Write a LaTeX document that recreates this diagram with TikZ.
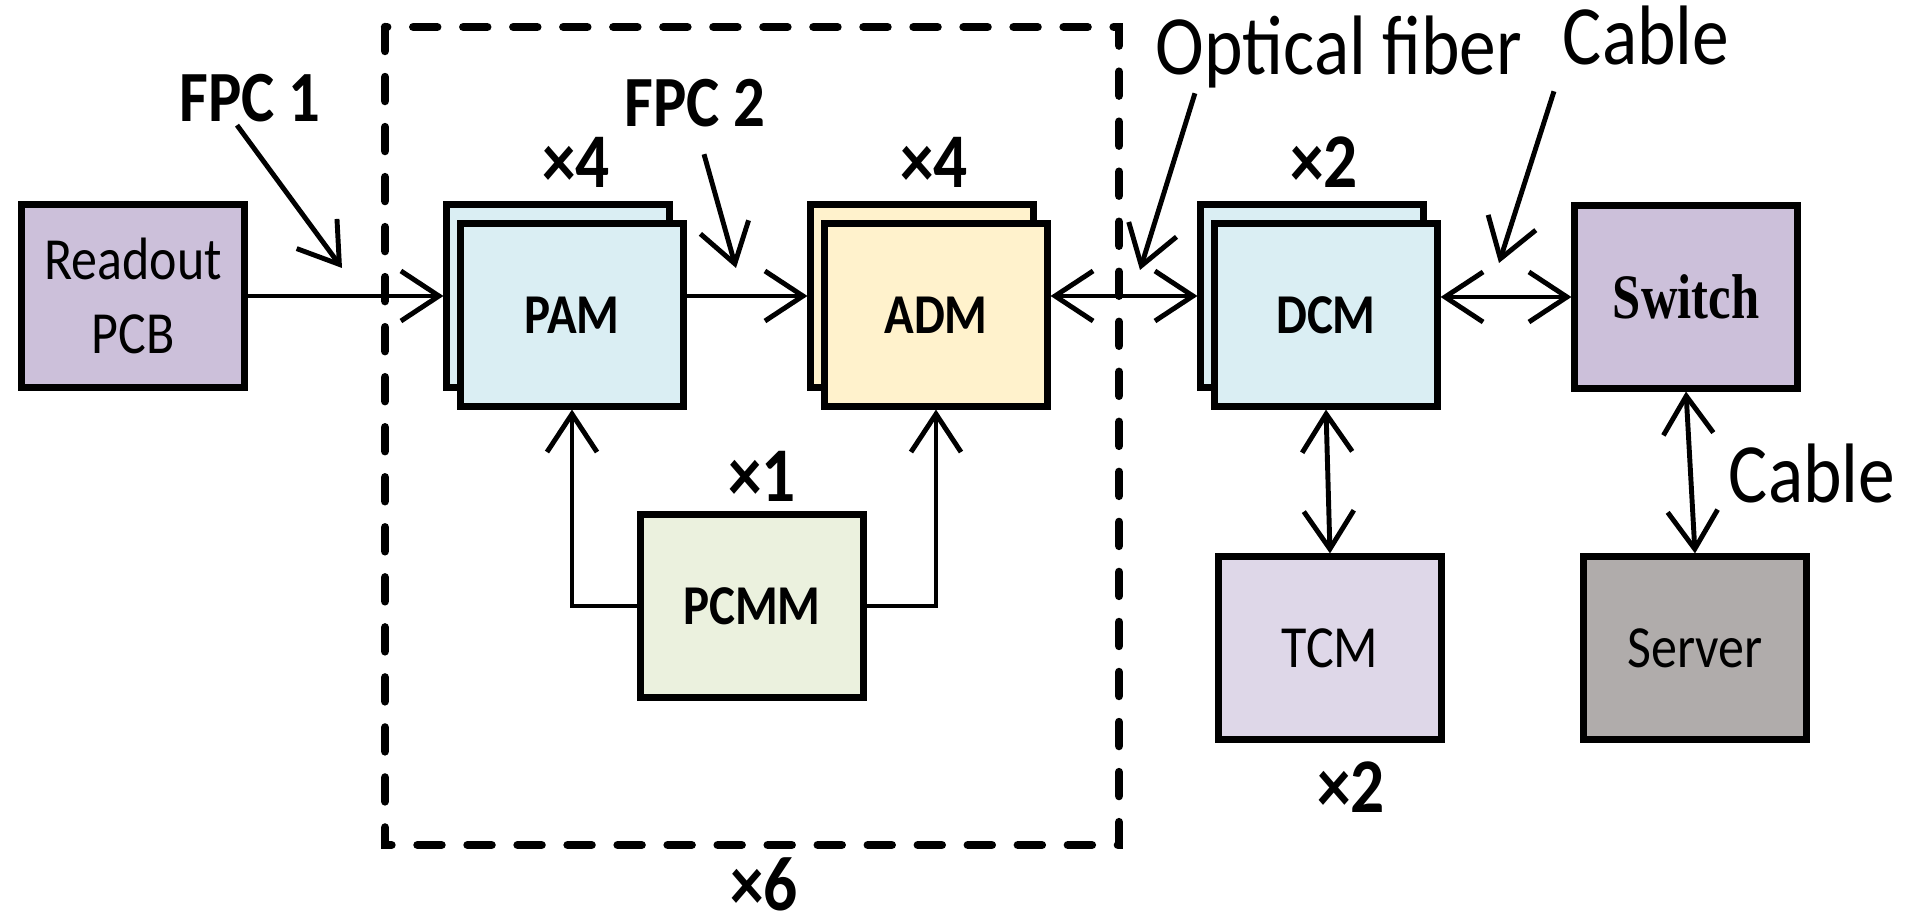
\documentclass[tikz,border=0pt]{standalone}
\usepackage{fontspec}
\setmainfont{Carlito}[FakeStretch=0.87]
\newfontfamily\swfont{Liberation Serif}[FakeStretch=0.8]
\usetikzlibrary{arrows.meta}

\definecolor{pcbpurple}{RGB}{204,192,218}
\definecolor{modblue}{RGB}{218,238,243}
\definecolor{modyellow}{RGB}{255,242,204}
\definecolor{modgreen}{RGB}{235,241,222}
\definecolor{tcmpurple}{RGB}{222,215,232}
\definecolor{srvgray}{RGB}{176,172,171}

\begin{document}
\begin{tikzpicture}[x=0.01cm,y=-0.01cm,
  >={Straight Barb[length=3.8mm,width=5mm]},
  box/.style={draw,line width=2pt,minimum width=2.22cm,minimum height=1.82cm,
    inner sep=0pt,align=center},
  modtext/.style={font=\fontsize{16}{19}\selectfont\bfseries},
  boxtext/.style={font=\fontsize{17}{21}\selectfont},
  wire/.style={line width=1.4pt},
  cnt/.style={anchor=base,inner sep=0pt,font=\fontsize{22}{26}\selectfont\bfseries},
  fpc/.style={anchor=base,inner sep=0pt,font=\fontsize{20.5}{24}\selectfont\bfseries},
  link/.style={anchor=base,inner sep=0pt,font=\fontsize{24}{28}\selectfont}]
\useasboundingbox (0,0) rectangle (1906,922);

% one readout group, repeated six times
\draw[line width=2.4pt,line cap=round,dash pattern=on 0.24cm off 0.26cm]
  (385,27) rectangle (1119,845);

% stacked modules: back copy first
\node[box,fill=modblue] (pamb) at (558,296) {};
\node[box,fill=modyellow] (admb) at (922,296) {};
\node[box,fill=modblue] (dcmb) at (1312,296) {};
\node[box,fill=modblue,modtext] (pam) at (572,315) {PAM};
\node[box,fill=modyellow,modtext] (adm) at (936,315) {ADM};
\node[box,fill=modblue,modtext] (dcm) at (1326,315) {DCM};

\node[box,fill=pcbpurple,boxtext] (rdo) at (133,296) {Readout\\PCB};
\node[box,fill=pcbpurple,font=\swfont\bfseries\fontsize{18}{21}\selectfont] (sw) at (1686,297) {Switch};
\node[box,fill=modgreen,modtext] (pcmm) at (752,606) {PCMM};
\node[box,fill=tcmpurple,boxtext] (tcm) at (1330,648) {TCM};
\node[box,fill=srvgray,boxtext] (srv) at (1695,648) {Server};

% multiplicities
\node[cnt] (npam) at (576,188) {×4};
\node[cnt] (nadm) at (934,188) {×4};
\node[cnt] (ndcm) at (1324,188) {×2};
\node[cnt] (npcmm) at (762,502) {×1};
\node[cnt] (ngrp) at (764,910) {×6};
\node[cnt] (ntcm) at (1351,812) {×2};

% data path
\draw[wire,->] (rdo.east) -- (pamb.west);
\draw[wire,->] (pam.east |- admb.west) -- (admb.west);
\draw[wire,<->] (adm.east |- dcmb.west) -- (dcmb.west);
\draw[wire,<->] (dcm.east |- sw.west) -- (sw.west);
\draw[wire,->] (pcmm.west) -| (pam.south);
\draw[wire,->] (pcmm.east) -| (adm.south);
\draw[wire,<->] (dcm.south) -- (tcm.north);
\draw[wire,<->] (sw.south) -- (srv.north);

% link types
\node[fpc] (fpc1) at (250,122) {FPC 1};
\node[fpc] (fpc2) at (695,127) {FPC 2};
\node[link] (opt) at (1339,75) {Optical fiber};
\node[link] (cab1) at (1646,65) {Cable};
\node[link] (cab2) at (1812,503) {Cable};
\coordinate (fpc1tip) at (342,268);
\coordinate (fpc2tip) at (736,268);
\coordinate (opttip) at (1140,270);
\coordinate (cabtip) at (1499,263);
\draw[wire,->] ([xshift=-0.13cm,yshift=-0.02cm]fpc1.south) -- (fpc1tip);
\draw[wire,->] ([xshift=0.09cm,yshift=-0.26cm]fpc2.south) -- (fpc2tip);
\draw[wire,->] ([xshift=-1.44cm,yshift=-0.04cm]opt.south) -- (opttip);
\draw[wire,->] ([xshift=-0.92cm,yshift=-0.25cm]cab1.south) -- (cabtip);
\end{tikzpicture}
\end{document}
